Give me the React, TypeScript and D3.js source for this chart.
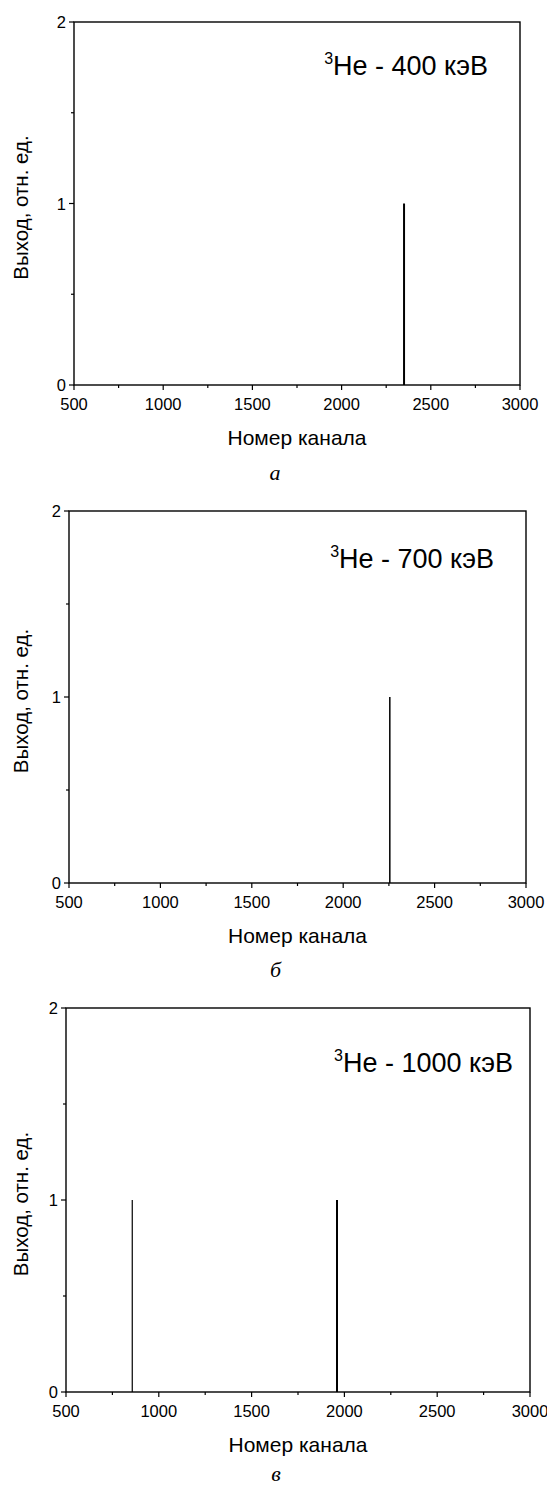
import React from 'react';
import * as d3 from 'd3';

// data
const xTicks = [500, 1000, 1500, 2000, 2500, 3000];
const xMinor = [750, 1250, 1750, 2250, 2750];
const yTicks = [0, 1, 2];
const yMinor = [0.5, 1.5];
const energies = ['400', '700', '1000'];
const letters = ['а', 'б', 'в'];
const peaksA = [{ ch: 2350, y: 1, w: 2 }];
const peaksB = [{ ch: 2255, y: 1, w: 1.5 }];
const peaksC = [{ ch: 857, y: 1, w: 1.2 }, { ch: 1960, y: 1, w: 2 }];

const FONT = '"Liberation Sans", Arial, sans-serif';

interface Peak { ch: number; y: number; w: number }
interface Box { left: number; right: number; top: number; bottom: number; titleDx: number; titleDy: number; letterDy: number }

const boxes: Box[] = [
  { left: 74, right: 520, top: 22, bottom: 385, titleDx: 32, titleDy: 53, letterDy: 95 },
  { left: 69, right: 526, top: 511, bottom: 883, titleDx: 32, titleDy: 57, letterDy: 94 },
  { left: 66, right: 530, top: 1008, bottom: 1392, titleDx: 17, titleDy: 64, letterDy: 89 },
];

const Panel: React.FC<{ box: Box; peaks: Peak[]; energy: string; letter: string }> = ({ box, peaks, energy, letter }) => {
  const x = d3.scaleLinear().domain([500, 3000]).range([box.left, box.right]);
  const y = d3.scaleLinear().domain([0, 2]).range([box.bottom, box.top]);
  const cx = (box.left + box.right) / 2;

  return (
    <g>
      {/* spikes */}
      {peaks.map((p, i) => (
        <line key={i} x1={x(p.ch)} x2={x(p.ch)} y1={y(0)} y2={y(p.y)} stroke="#000" strokeWidth={p.w} />
      ))}
      <rect x={box.left} y={box.top} width={box.right - box.left} height={box.bottom - box.top}
        fill="none" stroke="#000" strokeWidth={1.4} />
      {xTicks.map(t => (
        <g key={t}>
          <line x1={x(t)} x2={x(t)} y1={box.bottom} y2={box.bottom + 5} stroke="#000" strokeWidth={1.2} />
          <text x={x(t)} y={box.bottom + 25} textAnchor="middle" fontSize={16.5} fontFamily={FONT}>{t}</text>
        </g>
      ))}
      {xMinor.map(t => (
        <line key={t} x1={x(t)} x2={x(t)} y1={box.bottom} y2={box.bottom + 3} stroke="#000" strokeWidth={1.2} />
      ))}
      {yTicks.map(t => (
        <g key={t}>
          <line x1={box.left - 5} x2={box.left} y1={y(t)} y2={y(t)} stroke="#000" strokeWidth={1.2} />
          <text x={box.left - 8} y={y(t) + 6} textAnchor="end" fontSize={16.5} fontFamily={FONT}>{t}</text>
        </g>
      ))}
      {yMinor.map(t => (
        <line key={t} x1={box.left - 3} x2={box.left} y1={y(t)} y2={y(t)} stroke="#000" strokeWidth={1.2} />
      ))}
      <text x={box.right - box.titleDx} y={box.top + box.titleDy} textAnchor="end" fontSize={27} fontFamily={FONT}>
        <tspan fontSize={16} dy={-11}>3</tspan>
        <tspan dy={11}>{`He - ${energy} кэВ`}</tspan>
      </text>
      <text transform={`translate(28,${(box.top + box.bottom) / 2 + 4}) rotate(-90)`}
        textAnchor="middle" fontSize={20.5} fontFamily={FONT}>Выход, отн. ед.</text>
      <text x={cx} y={box.bottom + 60} textAnchor="middle" fontSize={21} fontFamily={FONT}>Номер канала</text>
      <text x={cx - 22} y={box.bottom + box.letterDy} textAnchor="middle" fontSize={22} fontStyle="italic"
        fontFamily='"Liberation Serif", "Times New Roman", serif'>{letter}</text>
    </g>
  );
};

const App: React.FC = () => {
  const allPeaks = [peaksA, peaksB, peaksC];
  return (
    <svg width={547} height={1488} style={{ position: 'absolute', left: 0, top: 0, background: '#fff' }}>
      {boxes.map((b, i) => (
        <Panel key={i} box={b} peaks={allPeaks[i]} energy={energies[i]} letter={letters[i]} />
      ))}
    </svg>
  );
};

export default App;
